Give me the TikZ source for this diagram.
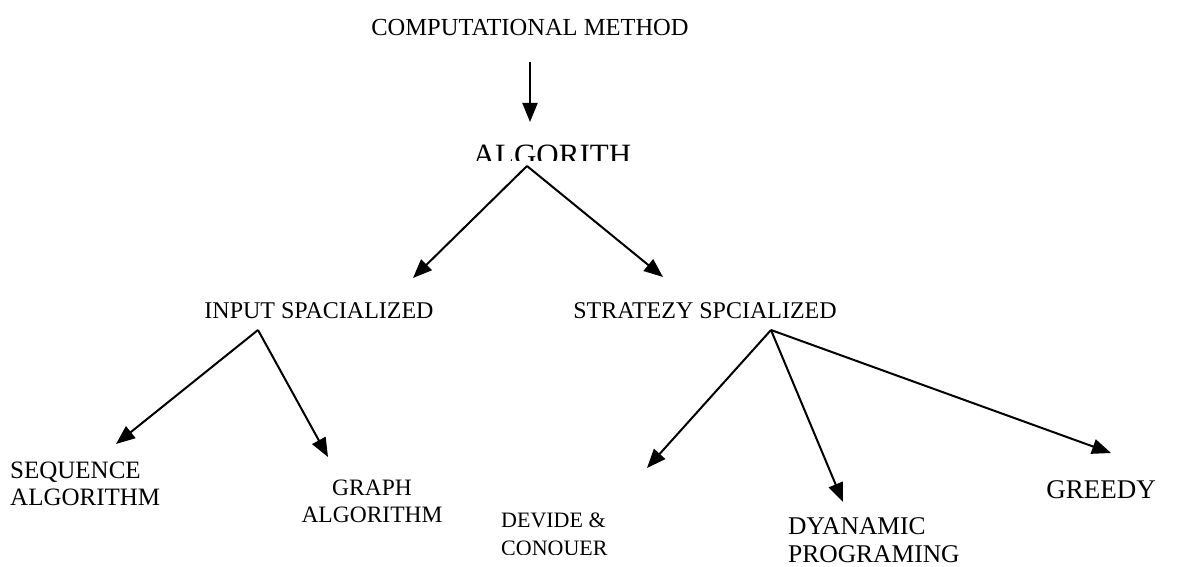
\documentclass[tikz,border=0pt]{standalone}
\usepackage{fontspec}
\setmainfont{Liberation Serif}
\usetikzlibrary{positioning,arrows.meta}

\begin{document}
\begin{tikzpicture}[
    x=1pt, y=-1pt,
    every node/.style={inner sep=0pt, align=center},
    title/.style={font=\fontsize{24.5}{28}\selectfont},
    mid/.style={font=\fontsize{24}{28}\selectfont},
    leaf/.style={font=\fontsize{24}{27}\selectfont},
    link/.style={line width=2pt, -{Triangle[length=19pt, width=15pt]}}
]
\useasboundingbox (0,0) rectangle (1184,567);

% top
\node[title] (method) at (530,28) {COMPUTATIONAL METHOD};
\coordinate (methodfoot) at (530,62);
\begin{scope}
  \clip (400,120) rectangle (700,161);
  \node[font=\fontsize{31}{34}\selectfont, anchor=base] (algo) at (552,166) {ALGORITH};
\end{scope}
\coordinate (algofoot) at (527,166);

% second level
\node[mid] (input) at (319,311) {INPUT SPACIALIZED};
\node[mid] (strategy) at (705,311) {STRATEZY SPCIALIZED};
\coordinate (inputfoot) at (258,330);
\coordinate (strategyfoot) at (771,330);

% leaves of input
\node[leaf, font=\fontsize{25}{27}\selectfont, align=left, anchor=north west] (sequence) at (10,462) {SEQUENCE\\ALGORITHM};
\node[leaf, font=\fontsize{23.5}{27}\selectfont] (graph) at (372,501) {GRAPH\\ALGORITHM};

% leaves of strategy
\begin{scope}
  \clip (480,500) rectangle (700,554.5);
  \node[leaf, font=\fontsize{22}{28}\selectfont, align=left, anchor=north west] (divide) at (501,513) {DEVIDE \&\\CONQUER};
\end{scope}
\node[leaf, font=\fontsize{25.5}{28}\selectfont, align=left, anchor=north west] (dynamic) at (788,517) {DYANAMIC\\PROGRAMING};
\node[leaf, font=\fontsize{27}{28}\selectfont] (greedy) at (1101,490) {GREEDY};

% connectors
\draw[link] (methodfoot) -- (530,122);
\draw[link] (algofoot) -- (413,278);
\draw[link] (algofoot) -- (663,277);
\draw[link] (inputfoot) -- (116,444);
\draw[link] (inputfoot) -- (328,457);
\draw[link] (strategyfoot) -- (647,468);
\draw[link] (strategyfoot) -- (843,502);
\draw[link] (strategyfoot) -- (1111,453);

\end{tikzpicture}
\end{document}
